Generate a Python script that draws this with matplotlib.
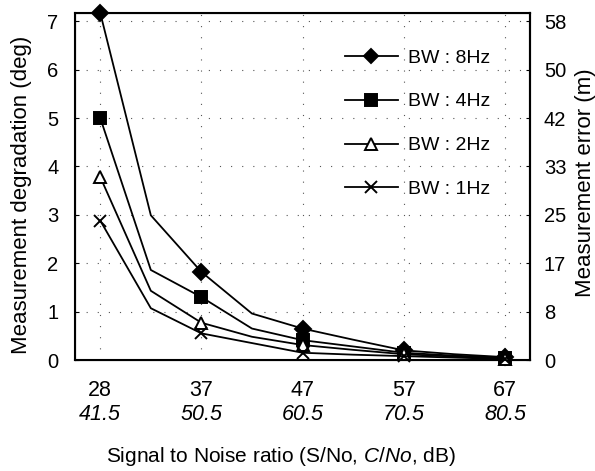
import matplotlib
matplotlib.use("Agg")
import matplotlib.pyplot as plt

plt.rcParams['font.family'] = ['Liberation Sans', 'DejaVu Sans']
plt.rcParams['mathtext.fontset'] = 'custom'
plt.rcParams['mathtext.rm'] = 'Liberation Sans'
plt.rcParams['mathtext.it'] = 'Liberation Sans:italic'

# Data
snr_labels = ["28", "37", "47", "57", "67"]
cno_labels = ["41.5", "50.5", "60.5", "70.5", "80.5"]
x_pos = [0, 0.5, 1, 1.5, 2, 2.5, 3, 3.5, 4]
bw8 = [7.17, 2.99, 1.82, 0.96, 0.65, 0.42, 0.20, 0.12, 0.06]
bw4 = [5.0, 1.86, 1.30, 0.65, 0.41, 0.28, 0.15, 0.09, 0.05]
bw2 = [3.78, 1.43, 0.77, 0.48, 0.31, 0.21, 0.12, 0.07, 0.03]
bw1 = [2.88, 1.07, 0.55, 0.35, 0.15, 0.11, 0.08, 0.05, 0.02]
left_ticks = [0, 1, 2, 3, 4, 5, 6, 7]
right_labels = ["0", "8", "17", "25", "33", "42", "50", "58"]

W, H = 595, 471
fig = plt.figure(figsize=(W / 100, H / 100), dpi=100)
L, R, T, B = 75, 530, 13, 360
ax = fig.add_axes([L / W, 1 - B / H, (R - L) / W, (B - T) / H])

series = [
    (bw8, 'D', 'black', "BW : 8Hz", 8),
    (bw4, 's', 'black', "BW : 4Hz", 9),
    (bw2, '^', 'white', "BW : 2Hz", 9),
    (bw1, 'x', 'black', "BW : 1Hz", 9),
]
handles = []
for vals, m, fc, lab, ms in series:
    ln, = ax.plot(x_pos, vals, color='black', lw=1.3, marker=m, markevery=2,
                  markersize=ms, markerfacecolor=fc, markeredgecolor='black',
                  markeredgewidth=1.4, label=lab, clip_on=False, zorder=3)
    handles.append(ln)

ax.set_xlim(-0.25, 4.25)
ax.set_ylim(0, 7.17)
ax.set_yticks(left_ticks)
ax.set_yticklabels([str(t) for t in left_ticks])
ax.set_xticks(range(5))
ax.set_xticklabels([])
ax.tick_params(axis='x', length=0)
ax.tick_params(axis='y', direction='in', length=3, labelsize=14.5, pad=12)

ax.grid(True, color='#555555', linestyle=(0, (1, 9)), linewidth=0.8)
for s in ax.spines.values():
    s.set_linewidth(1.5)

ax2 = ax.twinx()
ax2.set_ylim(ax.get_ylim())
ax2.set_yticks(left_ticks)
ax2.set_yticklabels(right_labels)
ax2.tick_params(axis='y', direction='in', length=3, labelsize=14.5, pad=10)
ax2.spines['right'].set_linewidth(1.5)

# x tick labels (two rows)
for i in range(5):
    fig.text((100 + i * 101.25) / W, 1 - 391 / H, snr_labels[i], ha='center', va='center', fontsize=15.5)
    fig.text((100 + i * 101.25) / W, 1 - 415 / H, cno_labels[i], ha='center', va='center', fontsize=15.5, style='italic')

fig.text(281 / W, 1 - 456 / H, r"Signal to Noise ratio (S/No, $\mathit{C/No}$, dB)",
         ha='center', va='center', fontsize=15)
fig.text(22 / W, 1 - 195 / H, "Measurement degradation (deg)", rotation=90,
         ha='center', va='center', fontsize=16)
fig.text(586 / W, 1 - 183 / H, "Measurement error (m)", rotation=90,
         ha='center', va='center', fontsize=16)

leg = ax.legend(handles=handles, loc='upper left', bbox_to_anchor=(345 / W, 1 - 49 / H),
                bbox_transform=fig.transFigure, frameon=False, fontsize=14,
                handlelength=2.7, labelspacing=1.35, handletextpad=0.55,
                borderpad=0, borderaxespad=0, markerscale=0.9)

fig.savefig("out.png", dpi=100)
